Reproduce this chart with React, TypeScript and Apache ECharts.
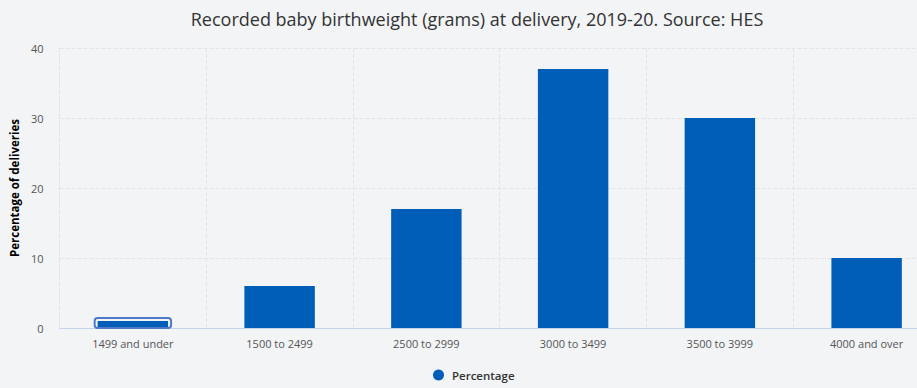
import React, { useEffect, useRef } from "react";
import * as echarts from "echarts";

const categories = ["1499 and under", "1500 to 2499", "2500 to 2999", "3000 to 3499", "3500 to 3999", "4000 and over"];
const percentages = [1, 6, 17, 37, 30, 10];
const highlightedIndex = [0];
const yTicks = { min: 0, max: 40, interval: 10 };

export default function App() {
  const ref = useRef<HTMLDivElement>(null);
  useEffect(() => {
    if (!ref.current) return;
    const chart = echarts.init(ref.current, undefined, { renderer: "svg" });
    const font = "'Open Sans', 'Noto Sans', sans-serif";
    chart.setOption({
      animation: false,
      backgroundColor: "#f2f4f6",
      textStyle: { fontFamily: font },
      title: {
        text: "Recorded baby birthweight (grams) at delivery, 2019-20. Source: HES",
        left: 472,
        textAlign: "center",
        top: 5,
        textStyle: { fontSize: 18, fontWeight: "normal", color: "#333", fontFamily: font },
      },
      legend: {
        data: ["Percentage"],
        bottom: 2,
        left: 428,
        icon: "circle",
        itemWidth: 11,
        itemHeight: 11,
        itemGap: 8,
        textStyle: { fontSize: 11.5, fontWeight: 600, color: "#333", fontFamily: font, padding: [0, 0, 0, 3] },
      },
      grid: { left: 58, right: 5, top: 48, bottom: 60, containLabel: false },
      xAxis: {
        type: "category",
        data: categories,
        axisLine: { lineStyle: { color: "#c5d3ec", width: 1 } },
        axisTick: { show: false },
        axisLabel: { color: "#555", fontSize: 11, margin: 10, fontFamily: font },
        splitLine: { show: true, lineStyle: { type: "dashed", color: "#e2e4e8" } },
      },
      yAxis: {
        type: "value",
        min: yTicks.min,
        max: yTicks.max,
        interval: yTicks.interval,
        name: "Percentage of deliveries",
        nameLocation: "middle",
        nameGap: 35,
        nameTextStyle: { fontSize: 11.5, fontWeight: "bold", color: "#000", fontFamily: font },
        axisLine: { show: true, lineStyle: { type: "dashed", color: "#e2e4e8" } },
        axisTick: { show: false },
        axisLabel: { color: "#555", fontSize: 11, margin: 16, fontFamily: font },
        splitLine: { lineStyle: { type: "dashed", color: "#e2e4e8" } },
      },
      series: [
        {
          name: "Percentage",
          type: "bar",
          data: percentages,
          barWidth: "48%",
          itemStyle: { color: "#005eb8" },
        },
        {
          name: "focus",
          type: "custom",
          silent: true,
          z: 3,
          data: highlightedIndex.map((i) => [i, percentages[i]]),
          renderItem: (params: any, api: any) => {
            const top = api.coord([api.value(0), api.value(1)]);
            const base = api.coord([api.value(0), 0]);
            const w = api.size([1, 0])[0] * 0.48;
            return {
              type: "rect",
              shape: { x: top[0] - w / 2 - 3, y: top[1] - 3, width: w + 6, height: base[1] - top[1] + 3, r: 3 },
              style: { fill: "none", stroke: "#4f78c9", lineWidth: 2 },
            };
          },
        },
      ],
    });
    return () => chart.dispose();
  }, []);
  return (
    <div style={{ width: 917, height: 388, position: "absolute", left: 0, top: 0, overflow: "hidden", background: "#f2f4f6" }}>
      <div ref={ref} style={{ width: 945, height: 388 }} />
    </div>
  );
}
